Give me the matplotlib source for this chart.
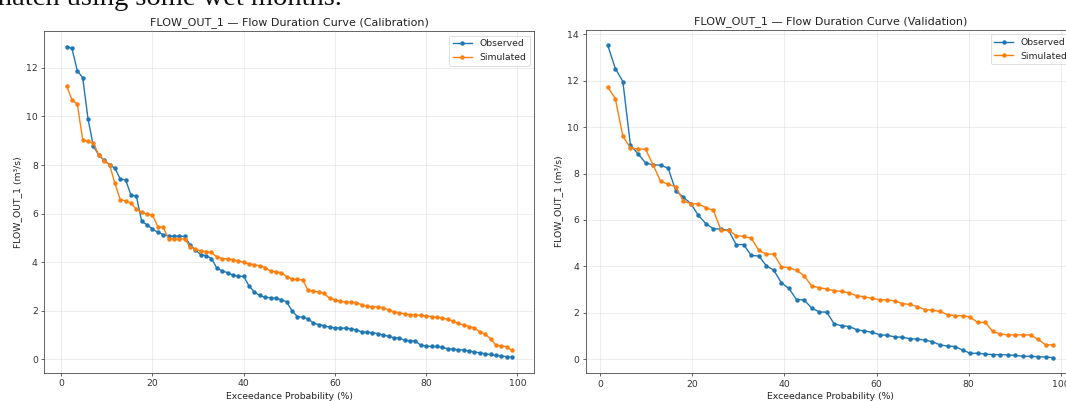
import numpy as np
import matplotlib
matplotlib.use("Agg")
import matplotlib.pyplot as plt

# ---- data ----
cal_observed = [12.88, 12.80, 11.88, 11.60, 9.90, 8.77, 8.42, 8.19, 8.02, 7.87,
                7.43, 7.39, 6.76, 6.73, 5.68, 5.54, 5.37, 5.23, 5.14, 5.08,
                5.07, 5.07, 5.06, 4.72, 4.51, 4.31, 4.27, 4.15, 3.76, 3.64,
                3.57, 3.47, 3.42, 3.42, 3.02, 2.77, 2.63, 2.55, 2.54, 2.51,
                2.46, 2.37, 2.00, 1.76, 1.73, 1.67, 1.49, 1.43, 1.39, 1.32,
                1.30, 1.29, 1.28, 1.26, 1.21, 1.13, 1.11, 1.10, 1.06, 1.00,
                0.95, 0.89, 0.88, 0.78, 0.77, 0.75, 0.58, 0.55, 0.53, 0.53,
                0.49, 0.44, 0.41, 0.40, 0.38, 0.34, 0.30, 0.27, 0.23, 0.20,
                0.16, 0.14, 0.11, 0.09]
cal_simulated = [11.27, 10.69, 10.51, 9.05, 8.97, 8.90, 8.42, 8.18, 8.02, 7.25,
                 6.58, 6.53, 6.43, 6.18, 6.05, 5.98, 5.94, 5.47, 5.44, 4.97,
                 4.96, 4.96, 4.96, 4.64, 4.53, 4.46, 4.44, 4.40, 4.22, 4.15,
                 4.14, 4.11, 4.05, 4.00, 3.93, 3.90, 3.85, 3.78, 3.63, 3.61,
                 3.56, 3.41, 3.30, 3.29, 3.27, 2.84, 2.80, 2.78, 2.72, 2.51,
                 2.45, 2.39, 2.36, 2.35, 2.34, 2.24, 2.18, 2.17, 2.16, 2.13,
                 2.03, 1.95, 1.92, 1.87, 1.84, 1.83, 1.81, 1.79, 1.76, 1.73,
                 1.70, 1.65, 1.57, 1.48, 1.41, 1.35, 1.29, 1.13, 1.04, 0.85,
                 0.58, 0.55, 0.52, 0.37]
val_observed = [13.52, 12.52, 11.96, 9.23, 8.85, 8.46, 8.37, 8.36, 8.23, 7.26,
                6.98, 6.70, 6.20, 5.84, 5.62, 5.61, 5.55, 4.94, 4.94, 4.47,
                4.45, 4.03, 3.83, 3.29, 3.05, 2.57, 2.56, 2.21, 2.04, 2.03,
                1.52, 1.45, 1.41, 1.27, 1.22, 1.16, 1.06, 1.03, 0.97, 0.95,
                0.89, 0.87, 0.83, 0.76, 0.62, 0.57, 0.55, 0.40, 0.26, 0.26,
                0.23, 0.20, 0.20, 0.19, 0.17, 0.13, 0.13, 0.11, 0.10, 0.07]
val_simulated = [11.73, 11.22, 9.60, 9.11, 9.05, 9.05, 8.37, 7.67, 7.54, 7.43,
                 6.82, 6.70, 6.69, 6.53, 6.41, 5.55, 5.55, 5.33, 5.29, 5.22,
                 4.69, 4.53, 4.53, 3.98, 3.95, 3.83, 3.60, 3.16, 3.09, 3.02,
                 2.96, 2.92, 2.86, 2.73, 2.69, 2.62, 2.57, 2.56, 2.52, 2.40,
                 2.36, 2.27, 2.14, 2.11, 2.06, 1.92, 1.88, 1.88, 1.82, 1.59,
                 1.59, 1.20, 1.09, 1.05, 1.05, 1.05, 1.05, 0.86, 0.62, 0.62]

titles = ["FLOW_OUT_1 \u2014 Flow Duration Curve (Calibration)",
          "FLOW_OUT_1 \u2014 Flow Duration Curve (Validation)"]
xlabel = "Exceedance Probability (%)"
ylabel = "FLOW_OUT_1 (m\u00b3/s)"
series_labels = ["Observed", "Simulated"]
caption_above = "match using some wet months."


def exceedance(values):
    n = len(values)
    return np.arange(1, n + 1) / (n + 1) * 100.0


S = 2.0 / 3.0
FS = 10 * S
plt.rcParams.update({
    "font.family": ["DejaVu Sans"],
    "font.size": FS,
    "axes.linewidth": 0.8 * S,
    "xtick.major.width": 0.8 * S,
    "ytick.major.width": 0.8 * S,
    "xtick.major.size": 3.5 * S,
    "ytick.major.size": 3.5 * S,
    "xtick.major.pad": 3.5 * S,
    "ytick.major.pad": 3.5 * S,
    "xtick.labelsize": FS,
    "ytick.labelsize": FS,
    "axes.labelsize": FS,
    "axes.titlesize": FS * 1.2,
    "axes.titlepad": 6 * S,
    "axes.labelpad": 4 * S,
    "legend.fontsize": FS,
    "axes.edgecolor": "#333333",
    "xtick.color": "#333333",
    "ytick.color": "#333333",
    "text.color": "#222222",
    "axes.labelcolor": "#222222",
})

W, H = 1066, 401
fig = plt.figure(figsize=(W / 100, H / 100), dpi=100)
ax1 = fig.add_axes([44.3 / W, 1 - 372.7 / H, 490 / W, (372.7 - 31.0) / H])
ax2 = fig.add_axes([585.5 / W, 1 - 373.3 / H, 490 / W, (373.3 - 29.7) / H])

datasets = [(cal_observed, cal_simulated), (val_observed, val_simulated)]
for ax, (obs, sim), title in zip([ax1, ax2], datasets, titles):
    ax.plot(exceedance(obs), obs, "-o", color="#1f77b4", lw=1.5 * S,
            ms=3.3 * S, label=series_labels[0])
    ax.plot(exceedance(sim), sim, "-o", color="#ff7f0e", lw=1.5 * S,
            ms=3.3 * S, label=series_labels[1])
    ax.set_title(title)
    ax.set_xlabel(xlabel)
    ax.set_ylabel(ylabel)
    ax.grid(True, color="#b0b0b0", alpha=0.3, lw=0.8 * S)
    ax.set_xticks([0, 20, 40, 60, 80, 100])
    leg = ax.legend(loc="upper right", framealpha=0.8,
                    borderpad=0.4, handlelength=2.0)
    leg.get_frame().set_linewidth(0.8 * S)

fig.text(-9.5 / W, 1 - 5.0 / H, caption_above, family="Liberation Serif",
         fontsize=20.5, va="baseline", ha="left", color="#111111")

fig.savefig("out.png", dpi=100)
